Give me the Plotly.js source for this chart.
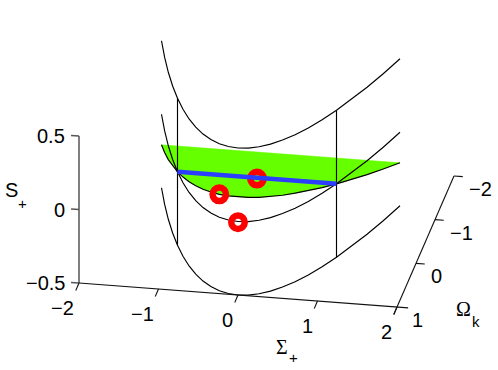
<!DOCTYPE html>
<html>
<head>
<meta charset="utf-8">
<script src="https://cdn.plot.ly/plotly-3.0.1.min.js"></script>
<style>html,body{margin:0;padding:0;background:#fff}#chart{width:498px;height:370px}</style>
</head>
<body>
<div id="chart"></div>
<script>
// Values: (Sigma+, Omega_k, S+)
const sigmaValues = [-1.5,-1.375,-1.25,-1.125,-1,-0.875,-0.75,-0.625,-0.5,-0.375,-0.25,-0.125,0,0.125,0.25,0.375,0.5,0.625,0.75,0.875,1,1.125,1.25,1.375,1.5];
const omegaValues = [-1.25,-0.89,-0.5625,-0.266,0,0.234,0.4375,0.609,0.75,0.859,0.9375,0.984,1,0.984,0.9375,0.859,0.75,0.609,0.4375,0.234,0,-0.266,-0.5625,-0.89,-1.25];
const sheetEdgeS = [-0.208,-0.148,-0.094,-0.044,0,0.039,0.073,0.102,0.125,0.143,0.156,0.164,0.167,0.164,0.156,0.143,0.125,0.102,0.073,0.039,0,-0.044,-0.094,-0.148,-0.208];
const curveLevelsS = [-0.5,0,0.5];
const postSigma = [-1,1];
const postOmega = [0,0];
const postS = [-0.5,0.5];
const blueSigma = [-1,1];
const blueOmega = [0,0];
const blueS = [0,0];
const pointSigma = [0,-0.25,0];
const pointOmega = [0,0.9375,1];
const pointS = [-0.005,0.156,-0.005];
const sigmaTicks = [-2,-1,0,1,2];
const omegaTicks = [1,0,-1,-2];
const sTicks = [-0.5,0,0.5];
const sTickLabels = ['\u22120.5','0','0.5'];
const sigmaTickLabels = ['\u22122','\u22121','0','1','2'];
const omegaTickLabels = ['1','0','\u22121','\u22122'];

// Oblique projection of the box into the flat plotting plane
function px(sig,om){return 79+(sig+2)*79.5+(1-om)*19;}
function py(sig,om,s){return 283+(sig+2)*6-(1-om)*43.67-(s+0.5)*147;}
function path3(sig,om,s,style){
  return Object.assign({type:'scatter',mode:'lines',hoverinfo:'skip',
    x:sig.map((v,i)=>px(v,om[i])),y:sig.map((v,i)=>py(v,om[i],s[i]))},style);
}
const black={line:{color:'#000',width:1.15}};
const axisLine={line:{color:'#111',width:1.1}};
const sAxisLine={line:{color:'#555',width:1.5}};
const traces=[];

// green sheet
const topEdgeSigma=[1.5,-1.5], topEdgeOmega=[-1.25,-1.25], topEdgeS=[-0.208,-0.208];
traces.push(path3(sigmaValues.concat(topEdgeSigma),omegaValues.concat(topEdgeOmega),sheetEdgeS.concat(topEdgeS),
  {fill:'toself',fillcolor:'#66ff00',line:{color:'#66ff00',width:0.5}}));
// edge of sheet
traces.push(path3(sigmaValues.slice(0),omegaValues,sheetEdgeS,{line:{color:'#000',width:1.15}}));
// curves at constant S
curveLevelsS.forEach(l=>traces.push(path3(sigmaValues,omegaValues,sigmaValues.map(()=>l),black)));
// vertical posts
postSigma.forEach((sg,i)=>traces.push(path3([sg,sg],[postOmega[i],postOmega[i]],postS,black)));
// axes
traces.push(path3([-2,-2],[1,1],[-0.5,0.5],sAxisLine));
traces.push(path3([-2,2.14],[1,1],[-0.5,-0.5],axisLine));
traces.push(path3([2,2],[1.17,-2],[-0.5,-0.5],axisLine));
sTicks.forEach(t=>traces.push(path3([-2,-2.1],[1,1],[t,t],sAxisLine)));
sigmaTicks.forEach(t=>traces.push(path3([t,t],[1,1.17],[-0.5,-0.5],axisLine)));
omegaTicks.slice(1).forEach(t=>traces.push(path3([2,2.11],[t,t],[-0.5,-0.5],axisLine)));
// points
traces.push({type:'scatter',mode:'markers',hoverinfo:'skip',
  x:pointSigma.map((v,i)=>px(v,pointOmega[i])),
  y:pointSigma.map((v,i)=>py(v,pointOmega[i],pointS[i])),
  marker:{symbol:'circle-open',size:13.5,color:'#ff0000',line:{color:'#ff0000',width:6.5},opacity:1}});
// blue segment
traces.push(path3(blueSigma,blueOmega,blueS,{line:{color:'#2b3dff',width:4.5}}));

const F='Liberation Sans, Arial, sans-serif';
const G='Liberation Serif, Times New Roman, serif';
function note(text,x,y,anchor,size,fam){
  return {text,x,y,xref:'x',yref:'y',xanchor:anchor,yanchor:'middle',showarrow:false,
    font:{family:fam||F,size:size||20,color:'#000'},borderpad:0,borderwidth:0};
}
const ann=[];
sTicks.forEach((t,i)=>ann.push(note(sTickLabels[i],px(-2,1)-14,py(-2,1,t),'right')));
sigmaTicks.forEach((t,i)=>ann.push(note(sigmaTickLabels[i],px(t,1)-5,py(t,1,-0.5)+25,'right')));
omegaTicks.forEach((t,i)=>ann.push(note(omegaTickLabels[i],px(2,t)+15,py(2,t,-0.5)+13,'left')));
ann.push(note('S',11,190,'center'));
ann.push(note('+',22,203,'center',15));
ann.push(note('\u03a3',282,347,'center',20,G));
ann.push(note('+',293,357,'center',15));
ann.push(note('\u03a9',463,309,'center',20,G));
ann.push(note('k',476,321,'center',15));

Plotly.newPlot('chart',traces,{
  width:498,height:370,margin:{l:0,r:0,t:0,b:0},showlegend:false,
  paper_bgcolor:'#fff',plot_bgcolor:'#fff',
  xaxis:{range:[0,498],visible:false,fixedrange:true},
  yaxis:{range:[370,0],visible:false,fixedrange:true},
  annotations:ann
},{displayModeBar:false,staticPlot:true});
</script>
</body>
</html>
